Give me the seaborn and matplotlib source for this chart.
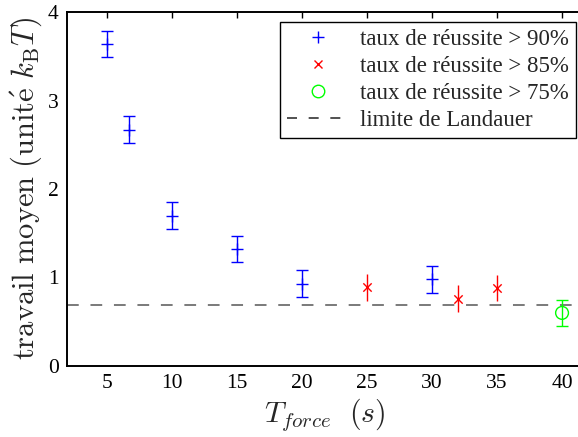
import numpy as np
import pandas as pd
import matplotlib
matplotlib.use("Agg")
import matplotlib.pyplot as plt
import seaborn as sns
from matplotlib.lines import Line2D

# data
t90 = [5, 6.67, 10, 15, 20, 30]
w90 = [3.64, 2.67, 1.70, 1.32, 0.93, 0.98]
e90 = [0.15, 0.15, 0.15, 0.15, 0.15, 0.15]
t85 = [25, 32, 35]
w85 = [0.89, 0.76, 0.88]
e85 = [0.15, 0.15, 0.15]
t75 = [40]
w75 = [0.60]
e75 = [0.15]
landauer = np.log(2)
labels = ["taux de réussite > 90%", "taux de réussite > 85%",
          "taux de réussite > 75%", "limite de Landauer"]
xticks = [5, 10, 15, 20, 25, 30, 35, 40]
yticks = [0, 1, 2, 3, 4]

sns.set_theme(style="white")
plt.rcParams["font.family"] = ["Liberation Serif", "DejaVu Serif"]
plt.rcParams["mathtext.fontset"] = "cm"

df = pd.DataFrame({
    "T": t90 + t85 + t75,
    "W": w90 + w85 + w75,
    "err": e90 + e85 + e75,
    "g": [labels[0]] * len(t90) + [labels[1]] * len(t85) + [labels[2]] * len(t75),
})

fig = plt.figure(figsize=(5.78, 4.37), dpi=100)
# axes extends slightly beyond the right edge (no right spine visible)
x0, x1 = 67 / 578, 582 / 578
ax = fig.add_axes([x0, 1 - 366 / 437, x1 - x0, (366 - 12) / 437])

ax.axhline(landauer, color="#707070", ls=(0, (6.5, 6.5)), lw=1.3, zorder=1)

cols = {labels[0]: "#0000ff", labels[1]: "#ff0000", labels[2]: "#00ff00"}
caps = {labels[0]: 4.3, labels[1]: 0, labels[2]: 4.3}
for g, sub in df.groupby("g", sort=False):
    ax.errorbar(sub["T"], sub["W"], yerr=sub["err"], fmt="none",
                ecolor=cols[g], elinewidth=1.0, capsize=caps[g], capthick=1.0, zorder=2)

sns.scatterplot(data=df[df.g == labels[0]], x="T", y="W", marker="+", s=80,
                color="#0000ff", linewidth=1.0, ax=ax, zorder=3, legend=False)
sns.scatterplot(data=df[df.g == labels[1]], x="T", y="W", marker="x", s=36,
                color="#ff0000", linewidth=1.0, ax=ax, zorder=3, legend=False)
sns.scatterplot(data=df[df.g == labels[2]], x="T", y="W", marker="o", s=85,
                facecolor="none", edgecolor="#00ff00", linewidth=1.0, ax=ax, zorder=3, legend=False)

ax.set_xlim(2 - 0.08, 2 - 0.08 + (582 - 67) / 13.0)
ax.set_ylim(0, 4)
ax.set_xticks(xticks)
ax.set_yticks(yticks)
ax.tick_params(direction="in", length=4, width=1, top=True, right=False,
               labelsize=15.5, colors="black", pad=6)
for s in ax.spines.values():
    s.set_color("black")
    s.set_linewidth(1.4)

ax.set_xlabel(r"$T_{force}\ \ (s)$", fontsize=21.5, labelpad=2)
ax.set_ylabel(r"$\mathrm{travail\ moyen\ (unit\acute{e}}\ k_{\mathrm{B}}T\mathrm{)}$",
              fontsize=22, labelpad=3)

handles = [
    Line2D([], [], ls="none", marker="+", color="#0000ff", markersize=9, mew=1.0),
    Line2D([], [], ls="none", marker="x", color="#ff0000", markersize=6, mew=1.0),
    Line2D([], [], ls="none", marker="o", markerfacecolor="none",
           markeredgecolor="#00ff00", markersize=9, mew=1.0),
    Line2D([], [], color="#333333", ls=(0, (6, 7)), lw=1.2),
]
leg = ax.legend(handles, labels, loc="upper right", fontsize=16.5, frameon=True,
                fancybox=False, edgecolor="black", framealpha=1,
                handlelength=2.75, handletextpad=0.45, borderpad=0.3,
                labelspacing=0.26, borderaxespad=0,
                bbox_to_anchor=(576 / 578, 1 - 22 / 437),
                bbox_transform=fig.transFigure)
leg.get_frame().set_linewidth(1.0)

fig.savefig("out.png", dpi=100)
